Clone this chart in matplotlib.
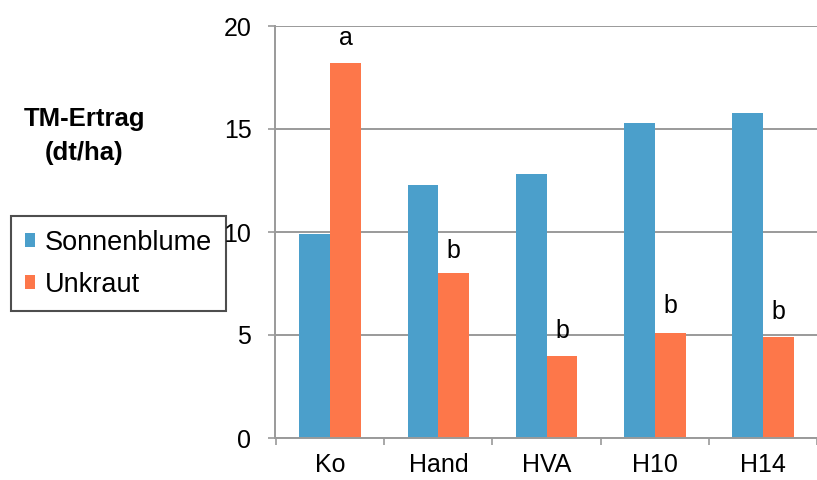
import numpy as np
import matplotlib
matplotlib.use("Agg")
import matplotlib.pyplot as plt

categories = ["Ko", "Hand", "HVA", "H10", "H14"]
sonnenblume = [9.9, 12.3, 12.8, 15.3, 15.8]
unkraut = [18.2, 8.0, 4.0, 5.1, 4.9]
letters = ["a", "b", "b", "b", "b"]
letter_y = [19.4, 9.1, 5.2, 6.4, 6.1]

blue = "#4b9fcb"
orange = "#fd774a"
grey = "#9a9a9a"

plt.rcParams['font.family'] = ['Liberation Sans', 'DejaVu Sans']

fig = plt.figure(figsize=(8.17, 4.8), dpi=100)
ax = fig.add_axes([275/817, 1-438/480, 1-275/817, 412/480])

x = np.arange(len(categories))
w = 0.285
b1 = ax.bar(x - w/2, sonnenblume, w, color=blue, label="Sonnenblume", zorder=2)
b2 = ax.bar(x + w/2, unkraut, w, color=orange, label="Unkraut", zorder=2)

for i in range(len(categories)):
    ax.text(x[i] + w/2, letter_y[i], letters[i], ha='center', va='center', fontsize=18)

ax.set_ylim(0, 20)
ax.set_xlim(-0.51, 4.42)
ax.set_yticks([0, 5, 10, 15, 20])
ax.yaxis.grid(True, color=grey, linewidth=1.4, zorder=0)
ax.set_axisbelow(True)
ax.set_xticks(np.arange(-0.5, 4.6, 1))
ax.set_xticklabels([])
ax.set_xticks(x, minor=True)
ax.set_xticklabels(categories, minor=True)
ax.tick_params(axis='x', which='minor', length=0, pad=11, labelsize=18)
ax.tick_params(axis='x', which='major', length=5, color=grey, width=1.2)
ax.tick_params(axis='y', length=5, color=grey, width=1.2, labelsize=18, pad=12)
for s in ['top', 'right']:
    ax.spines[s].set_visible(False)
ax.spines['left'].set_color(grey)
ax.spines['bottom'].set_color(grey)
ax.spines['left'].set_linewidth(1.4)
ax.spines['bottom'].set_linewidth(1.4)

fig.text(84/817, 1-119/480, "TM-Ertrag", ha='center', va='center', fontsize=18.5, fontweight='bold')
fig.text(84/817, 1-153/480, "(dt/ha)", ha='center', va='center', fontsize=18.5, fontweight='bold')

leg = fig.legend(handles=[b1, b2], labels=["Sonnenblume", "Unkraut"],
                 loc='upper left', bbox_to_anchor=(11/817, 1-216/480),
                 frameon=True, fancybox=False, fontsize=19.5,
                 handlelength=0.4, handleheight=0.4, handletextpad=0.36,
                 borderpad=0.5, labelspacing=0.6, borderaxespad=0)
leg.get_frame().set_edgecolor('#222222')
leg.get_frame().set_linewidth(1.5)

fig.savefig("out.png", dpi=100, facecolor='white')
